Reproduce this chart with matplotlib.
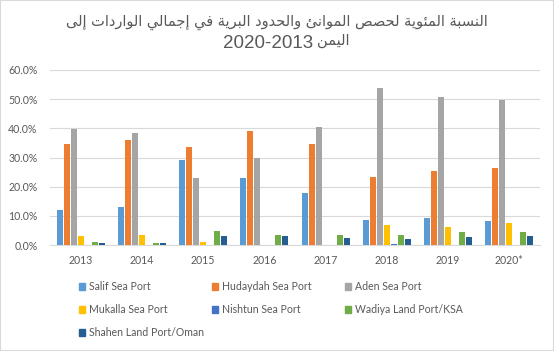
import matplotlib.pyplot as plt
import numpy as np
from matplotlib.patches import Rectangle, Patch

## Share of ports and land borders in total imports to Yemen
years = ['2013', '2014', '2015', '2016', '2017', '2018', '2019', '2020*']

salif = [12.1, 12.9, 29.3, 22.9, 17.7, 8.7, 9.1, 8.4]
hudaydah = [34.5, 36.0, 33.6, 39.1, 34.6, 23.2, 25.3, 26.3]
aden = [39.7, 38.3, 22.9, 30.0, 40.5, 53.8, 50.8, 49.8]
mukalla = [3.1, 3.5, 1.1, 0.0, 0.0, 7.0, 6.3, 7.4]
nishtun = [0.0, 0.0, 0.0, 0.0, 0.0, 0.5, 0.0, 0.0]
wadiya = [1.0, 0.8, 4.9, 3.6, 3.6, 3.6, 4.6, 4.6]
shahen = [0.7, 0.8, 3.2, 3.2, 2.5, 2.2, 2.9, 3.2]

series_names = ['Salif Sea Port', 'Hudaydah Sea Port', 'Aden Sea Port', 'Mukalla Sea Port',
                'Nishtun Sea Port', 'Wadiya Land Port/KSA', 'Shahen Land Port/Oman']
series_values = [salif, hudaydah, aden, mukalla, nishtun, wadiya, shahen]
colors = ['#5B9BD5', '#ED7D31', '#A5A5A5', '#FFC000', '#4472C4', '#70AD47', '#255E91']

title_line1 = 'النسبة المئوية لحصص الموانئ والحدود البرية في إجمالي الواردات إلى'
title_word2 = 'اليمن'
title_years = '2020-2013'

# small arabic shaper (matplotlib has no shaping / bidi)
forms = {
    'ا': ('\uFE8D', '\uFE8E', None, None), 'إ': ('\uFE87', '\uFE88', None, None),
    'ة': ('\uFE93', '\uFE94', None, None), 'د': ('\uFEA9', '\uFEAA', None, None),
    'ر': ('\uFEAD', '\uFEAE', None, None), 'و': ('\uFEED', '\uFEEE', None, None),
    'ى': ('\uFEEF', '\uFEF0', None, None),
    'ب': ('\uFE8F', '\uFE90', '\uFE91', '\uFE92'), 'ت': ('\uFE95', '\uFE96', '\uFE97', '\uFE98'),
    'ج': ('\uFE9D', '\uFE9E', '\uFE9F', '\uFEA0'), 'ح': ('\uFEA1', '\uFEA2', '\uFEA3', '\uFEA4'),
    'س': ('\uFEB1', '\uFEB2', '\uFEB3', '\uFEB4'), 'ص': ('\uFEB9', '\uFEBA', '\uFEBB', '\uFEBC'),
    'ف': ('\uFED1', '\uFED2', '\uFED3', '\uFED4'), 'ل': ('\uFEDD', '\uFEDE', '\uFEDF', '\uFEE0'),
    'م': ('\uFEE1', '\uFEE2', '\uFEE3', '\uFEE4'), 'ن': ('\uFEE5', '\uFEE6', '\uFEE7', '\uFEE8'),
    'ي': ('\uFEF1', '\uFEF2', '\uFEF3', '\uFEF4'), 'ئ': ('\uFE89', '\uFE8A', '\uFE8B', '\uFE8C'),
}


def shape(text):
    out = []
    for i, ch in enumerate(text):
        if ch not in forms:
            out.append(ch)
            continue
        prev = text[i - 1] if i > 0 else ''
        nxt = text[i + 1] if i < len(text) - 1 else ''
        join_prev = prev in forms and forms[prev][2] is not None
        join_next = nxt in forms and forms[ch][2] is not None
        iso, fin, ini, med = forms[ch]
        if join_prev and join_next:
            out.append(med)
        elif join_prev:
            out.append(fin)
        elif join_next:
            out.append(ini)
        else:
            out.append(iso)
    return ''.join(out)[::-1]


plt.rcParams['font.family'] = ['Lato', 'DejaVu Sans']
text_color = '#595959'

fig = plt.figure(figsize=(5.54, 3.51), dpi=100)
ax = fig.add_axes([50 / 554, 1 - 245 / 351, 490 / 554, 175 / 351])

x = np.arange(len(years))
slot = 0.114
width = 0.098
for i, (vals, col) in enumerate(zip(series_values, colors)):
    ax.bar(x + (i - 3) * slot, vals, width=width, color=col, label=series_names[i], zorder=3)

ax.set_xlim(-0.5, len(years) - 0.5)
ax.set_ylim(0, 60)
ax.set_yticks(np.arange(0, 61, 10))
ax.set_yticklabels([f'{v:.1f}%' for v in np.arange(0, 61, 10)])
ax.set_xticks(x)
ax.set_xticklabels(years)
ax.tick_params(length=0, labelsize=7.6, labelcolor=text_color)
ax.tick_params(axis='y', pad=9)
ax.tick_params(axis='x', pad=7)
ax.grid(axis='y', color='#D9D9D9', linewidth=0.8, zorder=0)
for s in ['top', 'right', 'left']:
    ax.spines[s].set_visible(False)
ax.spines['bottom'].set_color('#D9D9D9')

# title
fig.text(0.5, 1 - 22 / 351, shape(title_line1), ha='center', va='center',
         fontsize=10.5, color=text_color, family='DejaVu Sans')
fig.text(313 / 554, 1 - 43 / 351, title_years, ha='right', va='center',
         fontsize=13.5, color=text_color, family='Liberation Sans')
fig.text(317 / 554, 1 - 41 / 351, shape(title_word2), ha='left', va='center',
         fontsize=10.5, color=text_color, family='DejaVu Sans')

# legend, three equal columns like excel
col_x = [79, 212, 345]
for c in range(3):
    idx = [k for k in (c, c + 3, c + 6) if k < len(series_names)]
    handles = [Patch(color=colors[k]) for k in idx]
    labels = [series_names[k] for k in idx]
    fig.legend(handles, labels, loc='upper left', bbox_to_anchor=(col_x[c] / 554, 1 - 281 / 351),
               frameon=False, fontsize=7.6, labelcolor=text_color, handlelength=0.6,
               handleheight=0.6, handletextpad=0.35, labelspacing=1.15, borderpad=0,
               borderaxespad=0)

fig.patches.append(Rectangle((0, 0), 1, 1, transform=fig.transFigure, fill=False,
                             edgecolor='#D9D9D9', linewidth=1.5))

fig.savefig('out.png', dpi=100)
